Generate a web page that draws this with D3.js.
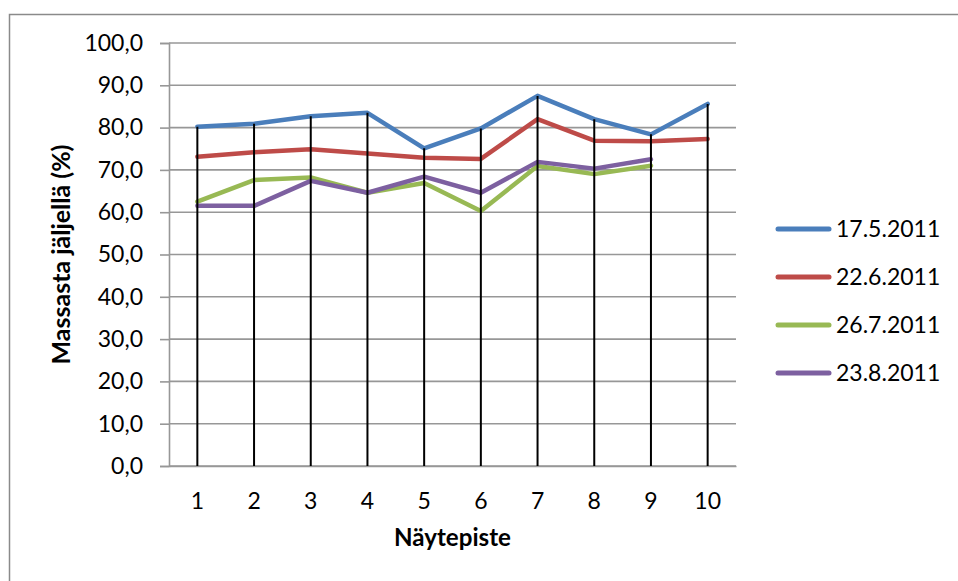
<!DOCTYPE html>
<html>
<head>
<meta charset="utf-8">
<script src="https://cdn.jsdelivr.net/npm/d3@7"></script>
<style>
  html, body { margin: 0; padding: 0; background: #fff; }
  svg { display: block; font-family: Lato, "Open Sans", sans-serif; }
</style>
</head>
<body>
<svg id="chart" width="958" height="581"></svg>
<script>
// Sample points and measurement dates
const categories = ["1", "2", "3", "4", "5", "6", "7", "8", "9", "10"];
const seriesNames = ["17.5.2011", "22.6.2011", "26.7.2011", "23.8.2011"];
const values1 = [80.2, 80.9, 82.7, 83.5, 75.1, 79.8, 87.5, 82.0, 78.4, 85.6];
const values2 = [73.1, 74.2, 74.9, 73.9, 72.9, 72.6, 82.0, 76.9, 76.8, 77.3];
const values3 = [62.5, 67.6, 68.2, 64.6, 66.9, 60.3, 70.9, 69.0, 71.0, null];
const values4 = [61.5, 61.5, 67.4, 64.6, 68.4, 64.6, 71.9, 70.3, 72.5, null];
const yTicks = [0, 10, 20, 30, 40, 50, 60, 70, 80, 90, 100];
const colors = ["#4a7ebb", "#be4b48", "#98b954", "#7d60a0"];

const allValues = [values1, values2, values3, values4];
const svg = d3.select("#chart");

// Outer chart frame
svg.append("rect")
  .attr("x", 9.5).attr("y", 14.5)
  .attr("width", 1000).attr("height", 1000)
  .attr("fill", "none").attr("stroke", "#8a8a8a").attr("stroke-width", 1.5);

const plot = { left: 169, right: 736, top: 43, bottom: 466 };

const x = d3.scaleBand().domain(categories).range([plot.left, plot.right]);
const xc = c => x(c) + x.bandwidth() / 2;
const y = d3.scaleLinear().domain([0, 100]).range([plot.bottom, plot.top]);

// Horizontal gridlines
svg.append("g")
  .selectAll("line")
  .data(yTicks)
  .join("line")
  .attr("x1", plot.left).attr("x2", plot.right)
  .attr("y1", d => y(d)).attr("y2", d => y(d))
  .attr("stroke", "#979797").attr("stroke-width", 1.6);

// Y axis
const yAxis = svg.append("g")
  .attr("transform", `translate(${plot.left},0)`)
  .call(d3.axisLeft(y).tickValues(yTicks).tickSize(9).tickPadding(17)
    .tickFormat(d => d.toFixed(1).replace(".", ",")));
yAxis.select(".domain").attr("stroke", "#979797").attr("stroke-width", 1.6);
yAxis.selectAll(".tick line").attr("stroke", "#979797").attr("stroke-width", 1.6);
yAxis.selectAll(".tick text")
  .attr("font-size", 23).attr("fill", "#000")
  .attr("font-family", "Lato, sans-serif");

// X axis
const xAxis = svg.append("g")
  .attr("transform", `translate(0,${plot.bottom})`)
  .call(d3.axisBottom(x).tickSize(0));
xAxis.select(".domain").attr("stroke", "#979797").attr("stroke-width", 1.6);
xAxis.selectAll(".tick text")
  .attr("y", 43).attr("dy", 0)
  .attr("font-size", 23).attr("fill", "#000")
  .attr("font-family", "Lato, sans-serif");

// Series lines
const line = d3.line()
  .defined(d => d.v != null)
  .x(d => xc(d.c))
  .y(d => y(d.v));

allValues.forEach((vals, i) => {
  const pts = categories.map((c, j) => ({ c, v: vals[j] }));
  svg.append("path")
    .datum(pts)
    .attr("d", line)
    .attr("fill", "none")
    .attr("stroke", colors[i])
    .attr("stroke-width", 4.5)
    .attr("stroke-linejoin", "round")
    .attr("stroke-linecap", "round");
});

// Drop lines from the highest point of each category down to the axis
svg.append("g")
  .selectAll("line")
  .data(categories)
  .join("line")
  .attr("x1", c => xc(c)).attr("x2", c => xc(c))
  .attr("y1", (c, j) => y(d3.max(allValues, vals => vals[j])))
  .attr("y2", plot.bottom)
  .attr("stroke", "#000").attr("stroke-width", 2);

// Bold title sized so that it spans the given width
function fitTitle(sel, width) {
  sel.attr("font-size", 100);
  const w = sel.node().getComputedTextLength();
  sel.attr("font-size", 100 * width / w);
  return sel;
}

// Axis titles
const yTitle = svg.append("text")
  .attr("transform", `translate(70,${(plot.top + plot.bottom) / 2}) rotate(-90)`)
  .attr("text-anchor", "middle")
  .attr("font-weight", "bold")
  .text("Massasta jäljellä (%)");
fitTitle(yTitle, 220);

const xTitle = svg.append("text")
  .attr("x", (plot.left + plot.right) / 2)
  .attr("y", 546)
  .attr("text-anchor", "middle")
  .attr("font-weight", "bold")
  .text("Näytepiste");
fitTitle(xTitle, 117);

// Legend
const legend = svg.append("g")
  .selectAll("g")
  .data(seriesNames)
  .join("g")
  .attr("transform", (d, i) => `translate(0,${229 + i * 48})`);
legend.append("line")
  .attr("x1", 778).attr("x2", 829)
  .attr("y1", 0).attr("y2", 0)
  .attr("stroke", (d, i) => colors[i])
  .attr("stroke-width", 5)
  .attr("stroke-linecap", "round");
legend.append("text")
  .attr("x", 836).attr("y", 8.3)
  .attr("font-size", 23)
  .text(d => d);
</script>
</body>
</html>
